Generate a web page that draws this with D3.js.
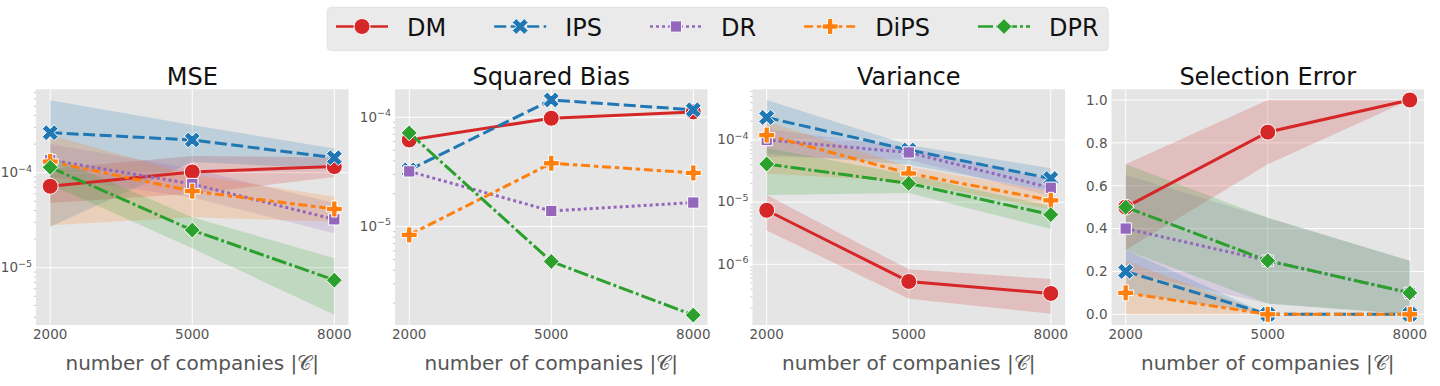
<!DOCTYPE html>
<html>
<head>
<meta charset="utf-8">
<script src="https://cdn.jsdelivr.net/npm/d3@7"></script>
<style>
  body { margin: 0; background: #fff; }
  svg { display: block; font-family: "DejaVu Sans", sans-serif; }
</style>
</head>
<body>
<svg id="chart" width="1440" height="386"></svg>
<script>
// ---- data (rows follow the methods order) ----
const companies = [2000, 5000, 8000];
const methods = ['DM', 'IPS', 'DR', 'DiPS', 'DPR'];
const colors = ['#d62728', '#1f77b4', '#9467bd', '#ff7f0e', '#2ca02c'];
const titles = ['MSE', 'Squared Bias', 'Variance', 'Selection Error'];

const mseMean = [
    [7.2e-5, 1.02e-4, 1.16e-4],
    [2.64e-4, 2.21e-4, 1.44e-4],
    [1.36e-4, 7.6e-5, 3.23e-5],
    [1.31e-4, 6.4e-5, 4.15e-5],
    [1.14e-4, 2.49e-5, 7.4e-6]
];
const mseLow = [
    [4.8e-5, 6.0e-5, 9.0e-5],
    [2.7e-5, 1.3e-4, 1.1e-4],
    [9.0e-5, 5.5e-5, 2.3e-5],
    [2.8e-5, 3.4e-5, 3.05e-5],
    [7.5e-5, 1.6e-5, 3.2e-6]
];
const mseHigh = [
    [1.1e-4, 1.5e-4, 1.45e-4],
    [5.8e-4, 3.18e-4, 1.8e-4],
    [2.0e-4, 1.1e-4, 4.8e-5],
    [2.5e-4, 9.5e-5, 5.6e-5],
    [1.5e-4, 3.4e-5, 1.26e-5]
];

const biasMean = [
    [6.2e-5, 9.8e-5, 1.12e-4],
    [3.3e-5, 1.44e-4, 1.17e-4],
    [3.2e-5, 1.39e-5, 1.66e-5],
    [8.4e-6, 3.8e-5, 3.1e-5],
    [7.2e-5, 4.8e-6, 1.55e-6]
];

const varMean = [
    [7.4e-6, 5.3e-7, 3.4e-7],
    [2.3e-4, 6.9e-5, 2.4e-5],
    [1.0e-4, 6.3e-5, 1.7e-5],
    [1.2e-4, 2.9e-5, 1.07e-5],
    [4.1e-5, 2.0e-5, 6.3e-6]
];
const varLow = [
    [3.5e-6, 2.8e-7, 1.6e-7],
    [6.0e-5, 4.0e-5, 1.5e-5],
    [5.4e-5, 4.8e-5, 1.25e-5],
    [2.9e-5, 2.15e-5, 7.6e-6],
    [1.3e-5, 1.4e-5, 3.7e-6]
];
const varHigh = [
    [1.3e-5, 8.3e-7, 5.8e-7],
    [4.4e-4, 8.3e-5, 3.5e-5],
    [1.5e-4, 7.6e-5, 2.3e-5],
    [2.0e-4, 3.7e-5, 1.5e-5],
    [7.4e-5, 2.75e-5, 8.6e-6]
];

const selMean = [
    [0.5, 0.85, 1.0],
    [0.2, 0.0, 0.0],
    [0.4, 0.25, 0.1],
    [0.1, 0.0, 0.0],
    [0.5, 0.25, 0.1]
];
const selLow = [
    [0.3, 0.7, 1.0],
    [0.1, 0.0, 0.0],
    [0.2, 0.05, 0.0],
    [0.0, 0.0, 0.0],
    [0.3, 0.05, 0.0]
];
const selHigh = [
    [0.7, 1.0, 1.0],
    [0.3, 0.0, 0.0],
    [0.65, 0.45, 0.25],
    [0.25, 0.0, 0.0],
    [0.7, 0.45, 0.25]
];

const logTickExps = [-6, -5, -4];
const selTicks = [0.0, 0.2, 0.4, 0.6, 0.8, 1.0];
const xLabel = 'number of companies |\u{1D49E}|';

// ---- layout / style ----
const svg = d3.select('#chart');
const lefts = [36, 395, 752.5, 1111.5];
const W = 312.5, plotTop = 89.3, plotBottom = 325;
const dashes = [null, '12,4.5', '3,3', '9,3.75,4.5,3.75', '15,3,3,3'];
const MS = 16;

const panels = [
    { mean: mseMean, low: mseLow, high: mseHigh, log: true, domain: [Math.pow(10, -5.603), Math.pow(10, -3.122)] },
    { mean: biasMean, low: null, high: null, log: true, domain: [Math.pow(10, -5.9), Math.pow(10, -3.744)] },
    { mean: varMean, low: varLow, high: varHigh, log: true, domain: [Math.pow(10, -6.976), Math.pow(10, -3.185)] },
    { mean: selMean, low: selLow, high: selHigh, log: false, domain: [-0.05, 1.05] }
];

// marker shapes, matplotlib style, s = marker size
function markerPath (k, s) {
    const h = s / 2;
    if (k === 0) {
        const c = d3.path();
        c.arc(0, 0, h, 0, 2 * Math.PI);
        c.closePath();
        return c.toString();
    }
    let pts;
    if (k === 1) {
        pts = [[0.25, 0], [0.5, 0.25], [0.25, 0.5], [0, 0.25], [-0.25, 0.5], [-0.5, 0.25],
            [-0.25, 0], [-0.5, -0.25], [-0.25, -0.5], [0, -0.25], [0.25, -0.5], [0.5, -0.25]].map(p => [p[0] * s, p[1] * s]);
    } else if (k === 2) {
        const a = h / Math.SQRT2;
        pts = [[-a, -a], [a, -a], [a, a], [-a, a]];
    } else if (k === 3) {
        pts = [[-1, -3], [1, -3], [1, -1], [3, -1], [3, 1], [1, 1], [1, 3], [-1, 3], [-1, 1], [-3, 1], [-3, -1], [-1, -1]]
            .map(p => [p[0] * s / 6, p[1] * s / 6]);
    } else {
        pts = [[0, -h], [h, 0], [0, h], [-h, 0]];
    }
    return 'M' + pts.map(p => p.join(',')).join('L') + 'Z';
}

const defs = svg.append('defs');

panels.forEach((p, i) => {
    const x0 = lefts[i];
    const x = d3.scaleLinear().domain([1700, 8300]).range([x0, x0 + W]);
    const y = (p.log ? d3.scaleLog() : d3.scaleLinear()).domain(p.domain).range([plotBottom, plotTop]);
    const g = svg.append('g');

    defs.append('clipPath').attr('id', 'clip' + i)
        .append('rect').attr('x', x0).attr('y', plotTop).attr('width', W).attr('height', plotBottom - plotTop);

    g.append('rect')
        .attr('x', x0).attr('y', plotTop)
        .attr('width', W).attr('height', plotBottom - plotTop)
        .attr('fill', '#e5e5e5');

    // y ticks
    let yTicks;
    if (p.log) {
        yTicks = logTickExps.map(e => Math.pow(10, e)).filter(v => v >= p.domain[0] && v <= p.domain[1]);
        // minor ticks
        const minor = [];
        for (let e = -8; e <= -2; e++) {
            for (let m = 2; m <= 9; m++) {
                const v = m * Math.pow(10, e);
                if (v >= p.domain[0] && v <= p.domain[1]) minor.push(v);
            }
        }
        g.selectAll('.minor').data(minor).enter().append('line')
            .attr('x1', x0 - 2.2).attr('x2', x0)
            .attr('y1', d => y(d)).attr('y2', d => y(d))
            .attr('stroke', '#b0b0b0').attr('stroke-width', 0.7);
    } else {
        yTicks = selTicks;
    }

    // grid
    g.selectAll('.gy').data(yTicks).enter().append('line')
        .attr('x1', x0).attr('x2', x0 + W)
        .attr('y1', d => y(d)).attr('y2', d => y(d))
        .attr('stroke', '#fff').attr('stroke-width', 1);
    g.selectAll('.gx').data(companies).enter().append('line')
        .attr('x1', d => x(d)).attr('x2', d => x(d))
        .attr('y1', plotTop).attr('y2', plotBottom)
        .attr('stroke', '#fff').attr('stroke-width', 1);

    // y tick labels
    g.selectAll('.yl').data(yTicks).enter().append('text')
        .attr('x', x0 - 4)
        .attr('y', d => y(d) + (p.log ? 4.3 : 4.8))
        .attr('text-anchor', 'end')
        .attr('fill', '#555')
        .attr('font-size', 13.5)
        .each(function (d) {
            const t = d3.select(this);
            if (p.log) {
                t.append('tspan').text('10');
                t.append('tspan').attr('dy', -5.5).attr('font-size', 9.5)
                    .text('\u2212' + Math.round(-Math.log10(d)));
            } else {
                t.text(d.toFixed(1));
            }
        });

    // x tick labels
    g.selectAll('.xl').data(companies).enter().append('text')
        .attr('x', d => x(d)).attr('y', 339.3)
        .attr('text-anchor', 'middle')
        .attr('fill', '#555')
        .attr('font-size', 13.5)
        .text(d => d);

    // title and x label
    g.append('text')
        .attr('x', x0 + W / 2).attr('y', 84.5)
        .attr('text-anchor', 'middle')
        .attr('font-size', 24)
        .attr('fill', '#111')
        .text(titles[i]);

    g.append('text')
        .attr('x', x0 + W / 2).attr('y', 369.5)
        .attr('text-anchor', 'middle')
        .attr('font-size', 20)
        .attr('fill', '#555')
        .text(xLabel);

    const plot = g.append('g').attr('clip-path', 'url(#clip' + i + ')');

    // bands first (below all lines)
    if (p.low) {
        const area = d3.area()
            .x(d => x(d.c))
            .y0(d => y(d.lo))
            .y1(d => y(d.hi));
        methods.forEach((m, k) => {
            const rows = companies.map((c, j) => ({ c: c, lo: p.low[k][j], hi: p.high[k][j] }));
            plot.append('path')
                .attr('d', area(rows))
                .attr('fill', colors[k])
                .attr('fill-opacity', 0.2);
        });
    }

    const line = d3.line().x(d => x(d.c)).y(d => y(d.v));
    methods.forEach((m, k) => {
        const rows = companies.map((c, j) => ({ c: c, v: p.mean[k][j] }));
        plot.append('path')
            .attr('d', line(rows))
            .attr('fill', 'none')
            .attr('stroke', colors[k])
            .attr('stroke-width', 3)
            .attr('stroke-dasharray', dashes[k])
            .attr('stroke-linecap', 'butt');
        plot.selectAll('.mk' + k).data(rows).enter().append('path')
            .attr('transform', d => 'translate(' + x(d.c) + ',' + y(d.v) + ')')
            .attr('d', markerPath(k, MS))
            .attr('fill', colors[k])
            .attr('stroke', '#fff')
            .attr('stroke-width', 1);
    });
});

// ---- legend ----
const leg = svg.append('g');
const ly = 26.5;
let lx = 336;
methods.forEach((m, k) => {
    leg.append('line')
        .attr('x1', lx).attr('x2', lx + 52)
        .attr('y1', ly).attr('y2', ly)
        .attr('stroke', colors[k])
        .attr('stroke-width', 2.6)
        .attr('stroke-dasharray', dashes[k]);
    leg.append('path')
        .attr('transform', 'translate(' + (lx + 26) + ',' + ly + ')')
        .attr('d', markerPath(k, MS))
        .attr('fill', colors[k])
        .attr('stroke', '#fff')
        .attr('stroke-width', 1);
    const t = leg.append('text')
        .attr('x', lx + 71).attr('y', ly + 9)
        .attr('font-size', 24)
        .attr('fill', '#111')
        .text(m);
    lx = lx + 71 + t.node().getComputedTextLength() + 48;
});
leg.insert('rect', ':first-child')
    .attr('x', 327.3).attr('y', 7.3)
    .attr('width', lx - 48 + 9.5 - 327.3).attr('height', 43.4)
    .attr('rx', 4)
    .attr('fill', '#eaeaea')
    .attr('stroke', '#e2e2e2');
</script>
</body>
</html>
